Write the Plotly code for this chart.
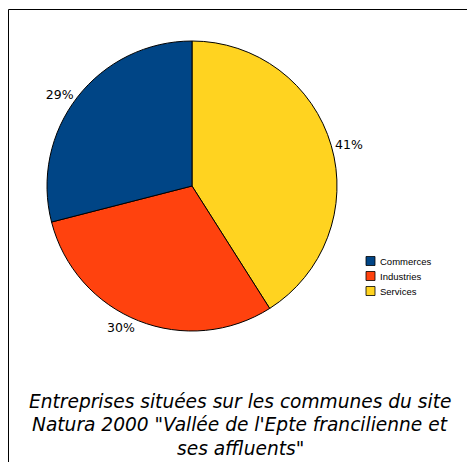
import plotly.graph_objects as go

# Répartition des entreprises par secteur (en %)
categories = ["Commerces", "Industries", "Services"]
parts = [29, 30, 41]
colors = ["#004586", "#ff420e", "#ffd320"]

title_lines = [
    "Entreprises situées sur les communes du site",
    "Natura 2000 \"Vallée de l'Epte francilienne et",
    "ses affluents\"",
]

W, H = 467, 462
cx, cy, r = 192, 186, 145  # centre and radius of the pie, in pixels

# sectors run counter-clockwise from 12 o'clock in category order,
# i.e. clockwise in reversed order
fig = go.Figure(
    go.Pie(
        labels=categories[::-1],
        values=parts[::-1],
        sort=False,
        direction="clockwise",
        rotation=0,
        marker=dict(colors=colors[::-1], line=dict(color="#000000", width=1)),
        textinfo="percent",
        texttemplate="%{percent:.0%}",
        textposition="outside",
        outsidetextfont=dict(family="DejaVu Sans, sans-serif", size=12.5, color="#000000"),
        hoverinfo="label+percent",
        showlegend=False,
        domain=dict(
            x=[(cx - r) / W, (cx + r) / W],
            y=[1 - (cy + r) / H, 1 - (cy - r) / H],
        ),
    )
)

annotations = []
shapes = [
    # frame around the chart (left and top edges)
    dict(type="line", xref="paper", yref="paper",
         x0=8.5 / W, x1=1.05, y0=1 - 9.5 / H, y1=1 - 9.5 / H,
         line=dict(color="#000000", width=1)),
    dict(type="line", xref="paper", yref="paper",
         x0=8.5 / W, x1=8.5 / W, y0=1 - 9.5 / H, y1=-0.05,
         line=dict(color="#000000", width=1)),
]

# legend: one coloured square and one label per category
leg_x, leg_y0, leg_dy, box = 366, 261, 15, 9
for i, (name, col) in enumerate(zip(categories, colors)):
    yc = leg_y0 + i * leg_dy
    shapes.append(dict(
        type="rect", xref="paper", yref="paper",
        x0=leg_x / W, x1=(leg_x + box) / W,
        y0=1 - (yc + box / 2) / H, y1=1 - (yc - box / 2) / H,
        fillcolor=col, line=dict(color="#000000", width=0.8),
    ))
    annotations.append(dict(
        text=name, x=(leg_x + box + 3) / W, y=1 - yc / H,
        xref="paper", yref="paper", xanchor="left", yanchor="middle",
        showarrow=False,
        font=dict(family="Liberation Sans, Arial, sans-serif", size=9.5, color="#000000"),
    ))

# caption below the pie, one annotation per line
for i, line in enumerate(title_lines):
    annotations.append(dict(
        text=line, x=240 / W, y=1 - (401 + i * 23.5) / H,
        xref="paper", yref="paper", xanchor="center", yanchor="middle",
        showarrow=False,
        font=dict(family="DejaVu Sans, sans-serif", size=18.6,
                  color="#000000", style="italic"),
    ))

fig.update_layout(
    width=W,
    height=H,
    margin=dict(l=0, r=0, t=0, b=0),
    paper_bgcolor="#ffffff",
    plot_bgcolor="#ffffff",
    annotations=annotations,
    shapes=shapes,
)

fig.write_html("out.html")
